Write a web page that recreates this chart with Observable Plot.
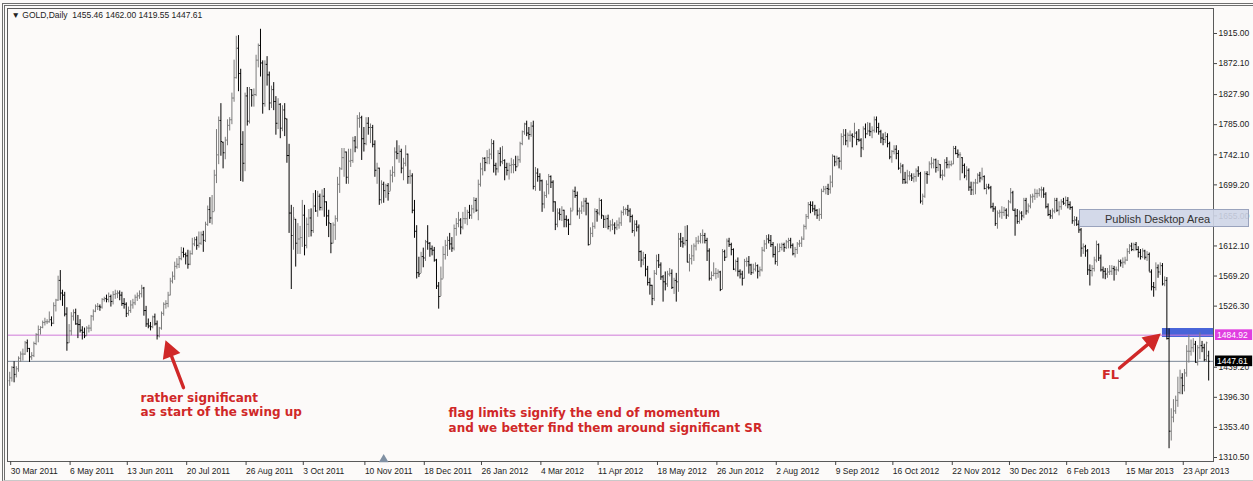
<!DOCTYPE html>
<html><head><meta charset="utf-8">
<script src="https://cdn.jsdelivr.net/npm/d3@7"></script>
<script src="https://cdn.jsdelivr.net/npm/@observablehq/plot@0.6"></script>
<style>
body{margin:0;background:#fcfaf9;}
#wrap{position:relative;width:1253px;height:481px;overflow:hidden;background:#fcfaf9;}
#wrap svg{display:block;}
#border{position:absolute;left:2px;top:3px;width:1260px;height:474px;border-left:3px double #6e6e6e;border-top:3px double #6e6e6e;border-bottom:1px solid #c9c9c9;pointer-events:none;}
#pub{position:absolute;left:1079px;top:209px;width:170px;height:18px;background:rgba(206,213,231,0.9);border:1px solid #9aa3bd;font:11px "Liberation Sans",Arial,sans-serif;color:#333;line-height:18px;box-sizing:border-box;padding-left:25px;}
</style></head><body>
<div id="wrap"><div id="border"></div></div>
<script>
// ---- data (daily bars, GOLD) ----
const symbol = "GOLD,Daily";
const startDate = "2011-03-30";
const holidays = ["2011-12-26","2012-01-02","2012-04-06","2012-12-25","2013-01-01","2013-03-29"];
const firstOpen = 1420;
const lastOpen = 1455.46;
const high = [
1432,1440,1447, 1440,1454,1461,1465,1476, 1478,1466,1460,1475,1487, 1498,1497,1505,1509,1507, 1518,1511,1531,1536,1569,
1577,1549,1546,1524,1500, 1517,1521,1522,1513,1507, 1497,1495,1497,1499,1513, 1521,1528,1530,1528,1537,
1539,1542,1545,1542,1547, 1549,1548,1548,1546,1537, 1531,1525,1534,1536,1542, 1545,1548,1556,1553,1526,
1508,1503,1512,1515,1505, 1496,1518,1531,1534,1546, 1566,1575,1589,1594,1597, 1610,1609,1602,1606,1605,
1623,1624,1625,1632,1632, 1633,1646,1669,1681,1684, 1720,1778,1796,1815,1760, 1767,1792,1795,1830,1877,
1911,1912,1864,1775,1830, 1838,1838,1835,1836,1884, 1900,1921,1876,1876,1882, 1860,1840,1845,1825,1822,
1815,1812,1815,1793,1757, 1670,1667,1650,1644,1640, 1677,1670,1652,1664,1665, 1687,1691,1690,1686,1692,
1694,1675,1663,1644,1645, 1655,1710,1724,1751,1751, 1746,1750,1750,1767,1768, 1798,1802,1797,1781,1795,
1795,1786,1784,1762,1730, 1723,1705,1703,1700,1701, 1720,1725,1752,1762,1755, 1750,1737,1755,1743,1720,
1715,1677,1641,1596,1603, 1609,1620,1641,1617,1612, 1610,1593,1560,1582,
1611,1620,1625,1630, 1624,1642,1651,1660,1651, 1660,1667,1663,1670,1670, 1681,1680,1706,1730,1738,
1738,1748,1750,1764,1762, 1730,1748,1752,1754,1735, 1730,1730,1737,1735,1740, 1740,1760,1776,1787,1790,
1781,1788,1790,1724,1722, 1715,1706,1689,1705,1714, 1712,1705,1675,1665,1665, 1668,1663,1655,1650,1666,
1692,1696,1689,1666,1675, 1680,1680,1673,1638, 1645,1665,1664,1680,1678, 1655,1655,1656,1648,1650,
1645,1648,1652,1662,1668, 1666,1670,1665,1656,1648, 1648,1642,1605,1603,1600, 1583,1566,1556,1577,1599,
1600,1588,1570,1575,1576, 1580,1578,1566,1573,1630, 1630,1624,1640,1641,1600, 1613,1615,1624,1626,1630,
1635,1630,1623,1608,1575, 1588,1580,1578,1576,1607, 1606,1622,1623,1616,1608, 1592,1595,1578,1576,1593,
1595,1597,1586,1586,1588, 1585,1582,1610,1620,1627, 1628,1627,1617,1611,1615, 1615,1616,1616,1620,1623,
1623,1615,1610,1617,1620, 1625,1642,1657,1674,1675, 1675,1670,1664,1665,1693, 1697,1697,1700,1712,1742,
1740,1740,1738,1772,1778, 1778,1773,1776,1772,1787, 1775,1778,1765,1782,1786, 1788,1787,1782,1796,1796,
1787,1777,1772,1774,1772, 1760,1748,1755,1755,1748, 1730,1728,1717,1720,1718, 1715,1715,1722,1725,1717,
1686,1718,1718,1732,1738, 1736,1736,1734,1728,1720, 1735,1738,1733,1733,1754, 1754,1749,1745,1738,1729,
1725,1722,1703,1703,1707, 1715,1717,1723,1712,1700, 1700,1697,1673,1668,1662, 1663,1668,1667,1665,1677,
1694,1690,1665, 1664,1662,1661,1680,1680, 1672,1685,1686,1693,1692, 1694,1696,1695,1688,1672,
1663,1665,1680,1680,1675, 1678,1680,1682,1681,1675, 1668,1654,1653,1648,1637, 1615,1613,1607,1585,1584,
1596,1619,1615,1599,1582, 1580,1580,1584,1584,1583, 1582,1592,1592,1595,1596, 1608,1614,1616,1616,1617,
1611,1607,1608,1606, 1604,1602,1578,1560,1588, 1585,1588,1587,1568,1567, 1494,1380,1393,1398,1425,
1435,1430,1436,1470,1485, 1478,1480,1476,1470,1488, 1476,1472,1475,1462
];
const low = [
1412,1418,1417, 1424,1432,1446,1448,1456, 1460,1446,1449,1453,1470, 1474,1485,1494,1498,1500, 1502,1497,1500,1518,1533,
1534,1526,1511,1462,1473, 1484,1505,1499,1480,1488, 1478,1480,1483,1488,1490, 1505,1517,1520,1519,1522,
1532,1531,1531,1525,1528, 1536,1537,1534,1526,1522, 1510,1512,1516,1522,1527, 1533,1536,1538,1512,1496,
1494,1491,1494,1498,1478, 1481,1492,1512,1522,1524, 1541,1558,1563,1579,1580, 1591,1595,1585,1579,1584,
1599,1611,1606,1609,1613, 1603,1617,1640,1644,1642, 1661,1701,1728,1740,1722, 1735,1755,1776,1785,1817,
1850,1832,1704,1703,1718, 1783,1786,1810,1810,1825, 1866,1853,1800,1810,1840, 1805,1808,1805,1770,1778,
1765,1775,1768,1730,1630, 1550,1606,1582,1600,1600, 1610,1598,1608,1624,1625, 1630,1660,1653,1662,1662,
1653,1640,1624,1601,1615, 1620,1646,1687,1720,1710, 1700,1700,1724,1730,1745, 1750,1780,1734,1746,1755,
1770,1758,1752,1710,1700, 1670,1672,1673,1680,1676, 1690,1702,1710,1735,1730, 1715,1705,1725,1700,1700,
1658,1623,1565,1567,1573, 1581,1590,1606,1596,1598, 1589,1550,1522,1540,
1565,1592,1597,1606, 1603,1605,1626,1638,1628, 1635,1643,1641,1650,1650, 1658,1660,1648,1696,1712,
1718,1728,1728,1735,1716, 1712,1716,1725,1728,1705, 1712,1706,1715,1715,1718, 1725,1730,1755,1770,1768,
1763,1767,1692,1690,1703, 1690,1660,1665,1680,1685, 1694,1660,1634,1638,1648, 1647,1638,1638,1627,1641,
1662,1680,1655,1650,1657, 1660,1655,1612,1614, 1624,1636,1646,1655,1650, 1637,1637,1635,1632,1634,
1628,1634,1636,1640,1655, 1656,1654,1645,1630,1625, 1632,1590,1581,1584,1568, 1555,1542,1527,1533,1570,
1580,1563,1532,1548,1553, 1568,1550,1543,1532,1546, 1610,1609,1612,1588,1575, 1585,1590,1605,1614,1615,
1615,1615,1590,1562,1562, 1568,1564,1566,1547,1550, 1590,1595,1610,1598,1577, 1575,1568,1565,1555,1565,
1582,1572,1570,1572,1575, 1565,1568,1575,1603,1607, 1615,1610,1595,1585,1583, 1603,1605,1603,1607,1608,
1608,1598,1595,1600,1610, 1610,1620,1635,1650,1658, 1660,1655,1650,1647,1650, 1688,1685,1684,1686,1695,
1725,1726,1722,1720,1755, 1755,1752,1760,1752,1765, 1755,1760,1738,1748,1765, 1770,1768,1765,1773,1773,
1770,1758,1755,1758,1752, 1735,1730,1742,1735,1720, 1715,1700,1700,1700,1705, 1704,1702,1703,1710,1672,
1670,1680,1700,1712,1722, 1722,1716,1718,1708,1705, 1710,1722,1722,1725,1728, 1742,1737,1705,1715,1708,
1705,1690,1684,1684,1685, 1700,1702,1705,1692,1685, 1692,1665,1660,1640,1636, 1652,1650,1654,1650,1653,
1672,1662,1626, 1643,1643,1648,1651,1656, 1658,1665,1673,1677,1680, 1682,1680,1680,1665,1654,
1650,1650,1658,1660,1655, 1663,1670,1668,1665,1663, 1643,1640,1640,1630,1596, 1600,1596,1570,1555,1568,
1575,1588,1590,1575,1565, 1564,1566,1570,1570,1562, 1570,1575,1582,1580,1585, 1590,1600,1604,1604,1605,
1595,1592,1594,1592, 1590,1575,1548,1539,1548, 1566,1570,1555,1554,1478, 1323,1334,1360,1372,1382,
1400,1400,1404,1425,1445, 1455,1460,1445,1441,1450, 1460,1447,1446,1419.55
];
const close = [
1424,1439,1429, 1437,1452,1458,1458,1474, 1466,1454,1456,1473,1486, 1493,1496,1503,1504,1504, 1507,1502,1527,1535,1563,
1545,1542,1515,1474,1491, 1512,1517,1501,1500,1492, 1489,1484,1495,1495,1512, 1519,1526,1526,1525,1536,
1537,1536,1540,1533,1543, 1544,1545,1542,1530,1529, 1516,1520,1528,1531,1539, 1541,1544,1552,1520,1501,
1498,1497,1511,1501,1484, 1495,1516,1529,1530,1542, 1562,1569,1583,1586,1594, 1603,1600,1598,1586,1601,
1615,1621,1613,1616,1628, 1620,1643,1664,1652,1661, 1713,1742,1791,1761,1745, 1763,1784,1792,1823,1852,
1894,1858,1757,1730,1826, 1790,1835,1827,1828,1877, 1898,1873,1815,1871,1856, 1816,1835,1818,1787,1814,
1780,1806,1794,1741,1659, 1627,1652,1616,1622,1624, 1656,1613,1643,1652,1634, 1669,1662,1683,1667,1683,
1675,1655,1645,1616,1642, 1651,1700,1722,1738,1746, 1710,1733,1734,1762,1753, 1794,1795,1765,1758,1787,
1781,1781,1757,1720,1723, 1678,1700,1691,1698,1687, 1713,1717,1746,1744,1747, 1723,1730,1743,1711,1712,
1663,1633,1574,1572,1597, 1595,1618,1616,1608,1606, 1592,1555,1540,1565,
1600,1613,1620,1615, 1609,1637,1644,1649,1639, 1651,1651,1660,1656,1665, 1677,1663,1700,1722,1737,
1731,1738,1743,1758,1727, 1722,1744,1732,1734,1724, 1720,1727,1728,1728,1725, 1735,1758,1775,1786,1773,
1771,1783,1697,1716,1711, 1705,1672,1684,1700,1711, 1703,1675,1643,1659,1657, 1663,1650,1649,1643,1662,
1690,1684,1662,1662,1669, 1676,1673,1614,1630, 1640,1661,1659,1677,1656, 1650,1651,1640,1642,1642,
1638,1642,1645,1660,1664, 1664,1662,1654,1634,1643, 1639,1604,1592,1595,1579, 1560,1556,1537,1573,1591,
1585,1568,1561,1558,1572, 1573,1553,1563,1561,1622, 1618,1616,1620,1589,1594, 1598,1612,1619,1619,1627,
1627,1620,1605,1566,1570, 1573,1573,1575,1550,1604, 1596,1619,1614,1607,1579, 1590,1576,1572,1566,1590,
1590,1585,1574,1579,1584, 1576,1578,1606,1615,1622, 1620,1614,1600,1590,1604, 1610,1614,1610,1618,1620,
1613,1601,1607,1615,1616, 1622,1640,1654,1671,1670, 1665,1663,1656,1657,1690, 1693,1694,1693,1703,1740,
1732,1737,1733,1768,1770, 1762,1770,1770,1768,1773, 1764,1763,1752,1779,1772, 1776,1775,1777,1792,1781,
1775,1766,1764,1768,1758, 1739,1747,1750,1744,1723, 1726,1707,1703,1712,1712, 1709,1711,1719,1715,1676,
1683,1715,1714,1729,1730, 1735,1724,1729,1713,1713, 1731,1728,1728,1729,1751, 1744,1742,1742,1727,1712,
1720,1696,1692,1702,1702, 1713,1709,1711,1694,1696, 1695,1668,1665,1644,1659, 1660,1660,1663,1656,1675,
1688,1663,1655, 1647,1659,1655,1677,1662, 1669,1682,1683,1687,1687, 1692,1692,1686,1668,1657,
1655,1662,1677,1663,1668, 1675,1673,1677,1671,1667, 1648,1649,1643,1635,1609, 1611,1605,1578,1577,1580,
1592,1614,1595,1578,1576, 1572,1575,1576,1580,1578, 1578,1590,1588,1589,1592, 1604,1612,1607,1614,1607,
1603,1597,1605,1596, 1600,1575,1554,1553,1581, 1575,1584,1558,1563,1480, 1348,1368,1377,1392,1403,
1424,1413,1431,1462,1462, 1467,1472,1446,1467,1470, 1467,1450,1474,1447.61
];
const tickLabels = ["30 Mar 2011","6 May 2011","13 Jun 2011","20 Jul 2011","26 Aug 2011","3 Oct 2011","10 Nov 2011",
  "18 Dec 2011","26 Jan 2012","4 Mar 2012","11 Apr 2012","18 May 2012","26 Jun 2012","2 Aug 2012","9 Sep 2012",
  "16 Oct 2012","22 Nov 2012","30 Dec 2012","6 Feb 2013","15 Mar 2013","23 Apr 2013"];
const priceTicks = [1915.00,1872.10,1827.90,1785.00,1742.10,1699.20,1655.00,1612.10,1569.20,1526.30,1439.20,1396.30,1353.40,1310.50];
const levelLine = 1484.92;
const lastPrice = 1447.61;
const flagZone = {start: 524, lo: 1481.6, hi: 1494.4};
const markerBar = 170;
const notes = [
  {x: 59.5, y: 1386, size: 12, text: "rather significant\nas start of the swing up"},
  {x: 199.5, y: 1364, size: 12, text: "flag limits signify the end of momentum\nand we better find them around significant SR"},
  {x: 496.5, y: 1430, size: 13, text: "FL"}
];
const arrows = [
  {x1: 79, y1: 1410, x2: 71.4, y2: 1473},
  {x1: 504.5, y1: 1438, x2: 522, y2: 1484}
];

// ---- derived ----
const fmt = d3.utcFormat("%Y-%m-%d");
const hol = new Set(holidays);
const dates = [];
for (let d = d3.utcParse("%Y-%m-%d")(startDate); dates.length < close.length; d = d3.utcDay.offset(d, 1)) {
  const w = d.getUTCDay();
  if (w !== 0 && w !== 6 && !hol.has(fmt(d))) dates.push(d);
}
const rows = close.map((c, i) => {
  let o = i === 0 ? firstOpen : (i === close.length - 1 ? lastOpen : close[i - 1]);
  o = Math.max(low[i], Math.min(high[i], o));
  return {i, date: dates[i], o, h: high[i], l: low[i], c, up: c >= o};
});
const parseLabel = d3.utcParse("%e %b %Y");
const tickIdx = tickLabels.map(s => { const t = parseLabel(s); return dates.findIndex(d => d >= t); });
const labelAt = new Map(tickIdx.map((k, j) => [k, tickLabels[j]]));
const header = "\u25BC " + symbol + "  " + [lastOpen, high.at(-1), low.at(-1), close.at(-1)].map(v => v.toFixed(2)).join(" ");

const W = 1253, H = 481, mL = 7, mR = 40, mT = 8, mB = 20;
const xMax = 547.2;
const xDom = [-1, xMax], yDom = [1304.8, 1950.64];
const sx = Plot.scale({x: {domain: xDom, range: [mL, W - mR]}});
const sy = Plot.scale({y: {domain: yDom, range: [H - mB, mT]}});
const arrowRows = arrows.map(a => {
  const dx = sx.apply(a.x2) - sx.apply(a.x1), dy = sy.apply(a.y2) - sy.apply(a.y1);
  return {...a, len: Math.hypot(dx, dy), rot: Math.atan2(dx, -dy) * 180 / Math.PI};
});
const arrowShape = {
  draw(ctx, l) {
    const hl = 12, hw = 6.5;
    ctx.moveTo(0, 0); ctx.lineTo(0, -(l - hl + 1));
    ctx.moveTo(-hw, -(l - hl)); ctx.lineTo(0, -l); ctx.lineTo(hw, -(l - hl)); ctx.closePath();
  }
};

const axisFont = "Liberation Sans, Arial, sans-serif";
const red = "#d02828";

const chart = Plot.plot({
  width: W, height: H,
  marginLeft: mL, marginRight: mR, marginTop: mT, marginBottom: mB,
  x: {domain: xDom, axis: null},
  y: {domain: yDom, axis: null},
  length: {type: "identity"},
  style: {background: "transparent", fontFamily: axisFont, fontSize: "8.5px", color: "#222", overflow: "visible"},
  marks: [
    Plot.rect([flagZone], {x1: "start", x2: xMax, y1: "lo", y2: "hi", fill: "#4864d8"}),
    Plot.ruleY([levelLine], {stroke: "#cf7ad9", strokeWidth: 1}),
    Plot.ruleY([lastPrice], {stroke: "#7b8898", strokeWidth: 1}),
    Plot.ruleX(rows.filter(d => d.up), {x: "i", y1: "l", y2: "h", stroke: "#7c7c7c", strokeWidth: 1}),
    Plot.link(rows.filter(d => d.up), {x1: d => d.i - 0.5, x2: "i", y1: "o", y2: "o", stroke: "#7c7c7c"}),
    Plot.link(rows.filter(d => d.up), {x1: "i", x2: d => d.i + 0.5, y1: "c", y2: "c", stroke: "#7c7c7c"}),
    Plot.ruleX(rows.filter(d => !d.up), {x: "i", y1: "l", y2: "h", stroke: "#050505", strokeWidth: 1}),
    Plot.link(rows.filter(d => !d.up), {x1: d => d.i - 0.5, x2: "i", y1: "o", y2: "o", stroke: "#050505"}),
    Plot.link(rows.filter(d => !d.up), {x1: "i", x2: d => d.i + 0.5, y1: "c", y2: "c", stroke: "#050505"}),
    Plot.frame({stroke: "#5a5a5a"}),
    Plot.axisY(priceTicks, {anchor: "right", tickFormat: d => d.toFixed(2), tickSize: 3, tickPadding: 2, fontSize: 8.5, fill: "#222", stroke: "#444"}),
    Plot.axisX(tickIdx, {tickFormat: k => labelAt.get(k), tickSize: 4, tickPadding: 2, textAnchor: "start", dx: 1, fontSize: 8.5, fill: "#222", stroke: "#444"}),
    Plot.rect([levelLine], {x1: xMax + 0.9, x2: xMax + 17.8, y1: d => d - 7.6, y2: d => d + 7.6, fill: "#e03ee0"}),
    Plot.text([levelLine], {x: xMax + 1.6, y: d => d, text: d => d.toFixed(2), textAnchor: "start", fill: "#fff", fontSize: 8.5}),
    Plot.rect([lastPrice], {x1: xMax + 0.9, x2: xMax + 17.8, y1: d => d - 7.6, y2: d => d + 7.6, fill: "#000"}),
    Plot.text([lastPrice], {x: xMax + 1.6, y: d => d, text: d => d.toFixed(2), textAnchor: "start", fill: "#fff", fontSize: 8.5}),
    Plot.text([header], {frameAnchor: "top-left", dx: 4, dy: 3, text: d => d, textAnchor: "start", lineAnchor: "top", fontSize: 8.5, fill: "#222"}),
    Plot.dot([markerBar], {x: d => d, frameAnchor: "bottom", dy: -2, symbol: "triangle", r: 3.6, fill: "#8090a3", stroke: "none"}),
    Plot.vector(arrowRows, {x: "x1", y: "y1", length: "len", rotate: "rot", anchor: "start", shape: arrowShape, stroke: red, fill: red, strokeWidth: 3.4, strokeLinejoin: "miter"}),
    ...notes.map(n => Plot.text([n], {x: "x", y: "y", text: "text", textAnchor: "start", fill: red, fontFamily: "DejaVu Sans", fontWeight: "bold", fontSize: n.size, lineHeight: 1.2}))
  ]
});
const wrap = document.getElementById("wrap");
wrap.insertBefore(chart, wrap.firstChild);
const pub = document.createElement("div");
pub.id = "pub"; pub.textContent = "Publish Desktop Area";
wrap.appendChild(pub);
</script>
</body></html>
